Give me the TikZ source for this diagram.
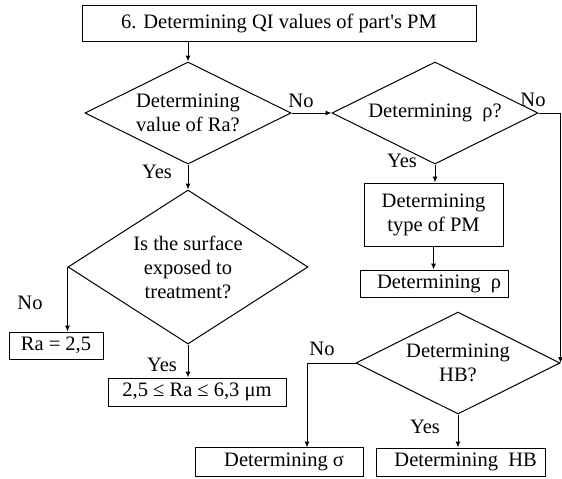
\documentclass[tikz,border=0pt]{standalone}
\usepackage{fontspec}
\setmainfont{Liberation Serif}
\usetikzlibrary{shapes.geometric,arrows.meta}
\begin{document}
\begin{tikzpicture}[x=1pt, y=-1pt, line width=1pt,
  font=\fontsize{20.5}{24}\selectfont,
  box/.style={draw, rectangle, inner sep=0pt, align=center},
  ask/.style={draw, diamond, aspect=2, inner sep=0pt, align=center, minimum width=206pt, minimum height=102pt},
  arr/.style={-{Latex[length=6pt,width=5pt]}},
  lbl/.style={inner sep=0pt}]
\useasboundingbox (0,0) rectangle (562,479);
\node[box, minimum width=394pt, minimum height=36pt] (start) at (279,23) {6. Determining QI values of part\textquotesingle s PM};
\node[ask] (ra) at (188,113) {Determining\\value of Ra?};
\node[ask] (rho) at (435,113) {Determining~~ρ?};
\node[ask, aspect=1.56, minimum width=240pt, minimum height=154pt] (surf) at (188,267) {Is the surface\\exposed to\\treatment?};
\node[ask, minimum width=204pt] (hb) at (458,363) {Determining\\HB?};
\node[box, minimum width=139pt, minimum height=63pt] (type) at (433.5,214.5) {Determining\\type of PM};
\node[box, minimum width=148pt, minimum height=27pt] (rhoval) at (434,283.5) {~~Determining~~ρ};
\node[box, minimum width=94pt, minimum height=27pt] (raval) at (56,345.5) {Ra = 2,5};
\node[box, minimum width=178pt, minimum height=28pt] (rarange) at (197,392) {2,5 ≤ Ra ≤ 6,3 μm};
\node[box, minimum width=168pt, minimum height=29pt] (sigma) at (279,462) {~~Determining σ};
\node[box, minimum width=169pt, minimum height=28pt] (hbval) at (460.5,462) {~~Determining~~HB};
\coordinate (sigmatop) at (307,447.5);
\begin{scope}[arr]
\draw (ra.north |- start.south) -- (ra.north);
\draw (ra.east) -- (rho.west);
\draw (ra.south) -- (surf.north);
\draw (surf.west) -- (surf.west |- raval.north);
\draw (surf.south) -- (surf.south |- rarange.north);
\draw (rho.south) -- (rho.south |- type.north);
\draw (type.south) -- (type.south |- rhoval.north);
\draw (rho.east) -| (hb.east);
\draw (hb.west) -| (sigmatop);
\draw (hb.south) -- (hb.south |- hbval.north);
\end{scope}
\node[lbl] (ranol) at (301,101) {No};
\node[lbl] (raysl) at (157,172) {Yes};
\node[lbl] (rhonol) at (533,100) {No};
\node[lbl] (rhoysl) at (402,161) {Yes};
\node[lbl] (surfnol) at (30,303) {No};
\node[lbl] (surfysl) at (162,365) {Yes};
\node[lbl] (hbnol) at (322,349) {No};
\node[lbl] (hbysl) at (425,427) {Yes};
\end{tikzpicture}
\end{document}
